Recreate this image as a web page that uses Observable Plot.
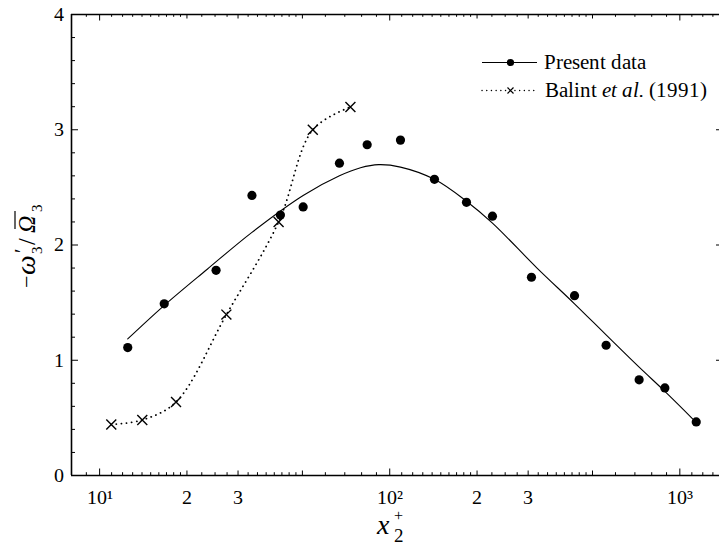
<!DOCTYPE html>
<html>
<head>
<meta charset="utf-8">
<script src="https://cdn.jsdelivr.net/npm/d3@7"></script>
<script src="https://cdn.jsdelivr.net/npm/@observablehq/plot@0.6"></script>
<style>
  @font-face { font-family: "PaperSerif"; src: local("Liberation Serif"), local("LiberationSerif"), local("Liberation Serif Regular"); font-style: normal; }
  @font-face { font-family: "PaperSerif"; src: local("Liberation Serif Italic"), local("LiberationSerif-Italic"); font-style: italic; }
  html, body { margin: 0; padding: 0; background: #fff; }
  #chart svg { display: block; }
  #chart svg text, #chart svg tspan { font-family: "PaperSerif", "Liberation Serif", serif !important; }
</style>
</head>
<body>
<div id="chart"></div>
<script>
// ---- Data ----
const presentX = [12.5, 16.7, 25.2, 33.5, 42.0, 50.3, 67.1, 83.6, 108.9, 142.6, 183.9, 226, 308, 433.5, 557, 724, 888, 1139];
const presentY = [1.11, 1.49, 1.78, 2.43, 2.26, 2.33, 2.71, 2.87, 2.91, 2.57, 2.37, 2.25, 1.72, 1.56, 1.13, 0.83, 0.76, 0.465];

const fitX = [12.5, 16.6, 23.5, 33.5, 50.3, 67.1, 79.3, 91.6, 108.9, 142.6, 183.9, 226, 322, 433.5, 557, 724, 888, 1109];
const fitY = [1.185, 1.47, 1.79, 2.11, 2.43, 2.60, 2.67, 2.697, 2.676, 2.57, 2.38, 2.19, 1.80, 1.49, 1.22, 0.94, 0.73, 0.49];

const balintX = [10.97, 14.03, 18.34, 27.35, 41.4, 54.3, 73.2];
const balintY = [0.442, 0.482, 0.638, 1.396, 2.2, 3.0, 3.197];

// Axis ticks
const xDomain = [8, 1370];
const yDomain = [0, 4];
const xLabelTicks = [10, 20, 30, 50, 100, 200, 300, 500, 1000];
const xLabelText = ["10¹", "2", "3", "5", "10²", "2", "3", "5", "10³"];
const xMajorTicks = [10, 100, 1000];
const xMidTicks = [20, 30, 50, 200, 300, 500];
const minorMantissas = [1.1, 1.2, 1.3, 1.4, 1.5, 1.6, 1.7, 1.8, 1.9, 2.25, 2.5, 2.75, 3.25, 3.5, 3.75, 4, 4.25, 4.5, 4.75, 6, 7, 8, 9];
const decades = [1, 10, 100, 1000];
const yMajorTicks = [0, 1, 2, 3, 4];
const yMinorTicks = [0.2, 0.4, 0.6, 0.8, 1.2, 1.4, 1.6, 1.8, 2.2, 2.4, 2.6, 2.8, 3.2, 3.4, 3.6, 3.8];
const yRightTicks = [1, 2, 3];

// ---- Tables ----
const present = presentX.map((x, i) => ({x, y: presentY[i]}));
const fit = fitX.map((x, i) => ({x, y: fitY[i]}));
const balint = balintX.map((x, i) => ({x, y: balintY[i]}));
const xMinorTicks = decades.flatMap(d => minorMantissas.map(m => +(d * m).toPrecision(6)))
  .filter(v => v > xDomain[0] && v < xDomain[1]);

// ---- Layout ----
const W = 719, H = 544;
const mL = 71, mR = 0, mT = 14, mB = 69;
const innerW = W - mL - mR, innerH = H - mT - mB;

const serif = '"PaperSerif", "Liberation Serif", serif';

const chart = Plot.plot({
  width: W, height: H,
  marginLeft: mL, marginRight: mR, marginTop: mT, marginBottom: mB,
  x: {type: "log", domain: xDomain},
  y: {domain: yDomain},
  style: {fontSize: "20px", color: "black", background: "white", overflow: "visible"},
  marks: [
    // tick labels
    Plot.axisX({ticks: xLabelTicks, tickSize: 0, tickPadding: 14, label: null,
      tickFormat: d => xLabelText[xLabelTicks.indexOf(d)], fontSize: 20}),
    Plot.axisY({ticks: yMajorTicks, tickSize: 0, tickPadding: 8, label: null,
      tickFormat: d => String(d), fontSize: 20}),
    // bottom inward ticks
    Plot.ruleX(xMinorTicks, {insetTop: innerH - 2.8, strokeWidth: 1}),
    Plot.ruleX(xMidTicks, {insetTop: innerH - 4.5, strokeWidth: 1}),
    Plot.ruleX(xMajorTicks, {insetTop: innerH - 6.5, strokeWidth: 1}),
    // top inward ticks
    Plot.ruleX(xMinorTicks, {insetBottom: innerH - 2.8, strokeWidth: 1}),
    Plot.ruleX(xMidTicks, {insetBottom: innerH - 4.5, strokeWidth: 1}),
    Plot.ruleX(xMajorTicks, {insetBottom: innerH - 6.5, strokeWidth: 1}),
    // left inward ticks
    Plot.ruleY(yMinorTicks, {insetRight: innerW - 4, strokeWidth: 1}),
    Plot.ruleY(yMajorTicks, {insetRight: innerW - 7, strokeWidth: 1}),
    // right ticks
    Plot.ruleY(yRightTicks, {insetLeft: innerW - 3, strokeWidth: 1}),
    // frame lines
    Plot.ruleY([yDomain[0]], {strokeWidth: 1.6}),
    Plot.ruleY([yDomain[1]], {strokeWidth: 1.4}),
    Plot.ruleX([xDomain[0]], {strokeWidth: 1.6}),
    // data
    Plot.line(fit, {x: "x", y: "y", curve: "catmull-rom", stroke: "black", strokeWidth: 1.1}),
    Plot.line(balint, {x: "x", y: "y", curve: "catmull-rom", stroke: "black", strokeWidth: 1.8,
      strokeDasharray: "0.1 5", strokeLinecap: "round"}),
    Plot.dot(present, {x: "x", y: "y", r: 4.6, fill: "black", stroke: "none"}),
    Plot.dot(balint, {x: "x", y: "y", symbol: "times", r: 4.6, stroke: "black", strokeWidth: 1.4})
  ]
});

document.getElementById("chart").appendChild(chart);

// ---- Axis titles and legend (decorations) ----
const svg = d3.select(chart);
const xs = chart.scale("x");
const x100 = xs.apply(100);

// x-axis title: x_2^+
const xt = svg.append("g").attr("fill", "black").attr("text-anchor", "start");
xt.append("text").attr("x", x100 - 12).attr("y", 534).attr("font-size", 28).attr("font-style", "italic").text("x");
xt.append("text").attr("x", x100 + 5).attr("y", 521).attr("font-size", 16).text("+");
xt.append("text").attr("x", x100 + 5).attr("y", 542).attr("font-size", 19).text("2");

// y-axis title: −ω′_3 / Ω̄_3  (rotated)
const yt = svg.append("g").attr("fill", "black").attr("text-anchor", "start")
  .attr("transform", "translate(35,288) rotate(-90)");
yt.append("text").attr("x", 0).attr("y", -1).attr("font-size", 22).text("−");
yt.append("text").attr("x", 13).attr("y", 0).attr("font-size", 28).attr("font-style", "italic").text("ω");
yt.append("text").attr("x", 35).attr("y", -7).attr("font-size", 20).text("′");
yt.append("text").attr("x", 34).attr("y", 7).attr("font-size", 15).text("3");
yt.append("text").attr("x", 43).attr("y", 0).attr("font-size", 24).text("/");
yt.append("text").attr("x", 55).attr("y", 0).attr("font-size", 24).attr("font-style", "italic").text("Ω");
yt.append("line").attr("x1", 59).attr("x2", 77).attr("y1", -20).attr("y2", -20).attr("stroke", "black").attr("stroke-width", 1.2);
yt.append("text").attr("x", 76).attr("y", 7).attr("font-size", 15).text("3");

// legend
const lg = svg.append("g").attr("fill", "black").attr("font-size", 21).attr("text-anchor", "start");
lg.append("line").attr("x1", 482).attr("x2", 537).attr("y1", 62.5).attr("y2", 62.5).attr("stroke", "black").attr("stroke-width", 1);
lg.append("circle").attr("cx", 510.5).attr("cy", 62.5).attr("r", 3.6).attr("fill", "black");
lg.append("text").attr("x", 544).attr("y", 69).text("Present data");
lg.append("line").attr("x1", 482).attr("x2", 537).attr("y1", 90.5).attr("y2", 90.5).attr("stroke", "black")
  .attr("stroke-width", 1.4).attr("stroke-dasharray", "0.1 4.6").attr("stroke-linecap", "round");
lg.append("path").attr("d", "M507.5,87.5L513.5,93.5M513.5,87.5L507.5,93.5").attr("stroke", "black").attr("stroke-width", 1.2).attr("fill", "none");
const t2 = lg.append("text").attr("x", 545).attr("y", 97);
t2.append("tspan").text("Balint ");
t2.append("tspan").attr("font-style", "italic").text("et al.");
t2.append("tspan").text(" (1991)");

// serif font on every text element
svg.attr("font-family", "Liberation Serif");
svg.selectAll("text, tspan").attr("font-family", "Liberation Serif").style("font-family", serif);
</script>
</body>
</html>
